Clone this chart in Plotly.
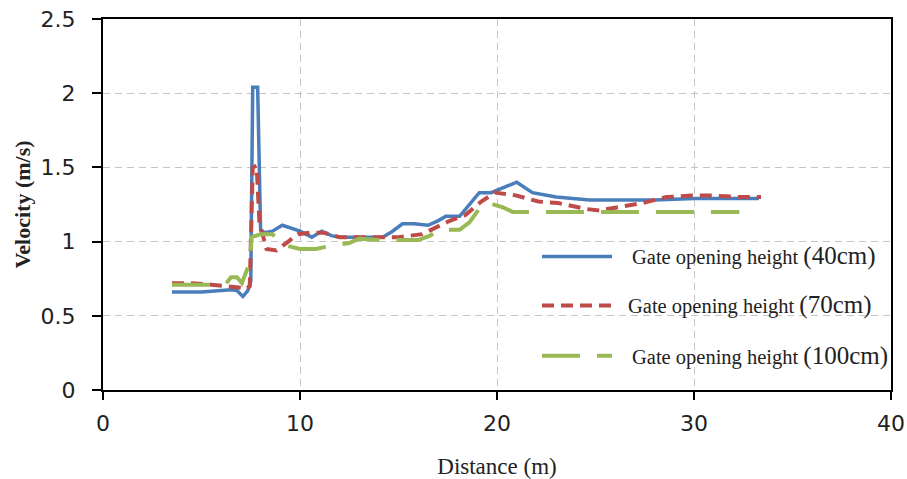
import plotly.graph_objects as go

# Velocity profiles along the channel for three gate opening heights
x_40 = [3.5, 5.0, 6.5, 6.8, 7.1, 7.35, 7.5, 7.6, 7.85, 8.0, 8.2, 8.6, 9.1, 9.6, 10.0,
        10.6, 11.1, 11.6, 12.0, 13.0, 14.2, 14.7, 15.2, 15.8, 16.5, 17.0, 17.4, 18.1,
        18.6, 19.1, 19.7, 20.3, 21.0, 21.8, 23.0, 24.7, 26.0, 28.0, 30.0, 32.0, 33.3]
v_40 = [0.66, 0.66, 0.675, 0.67, 0.63, 0.67, 0.73, 2.04, 2.04, 1.08, 1.06, 1.07, 1.11,
        1.09, 1.07, 1.03, 1.07, 1.04, 1.03, 1.03, 1.03, 1.07, 1.12, 1.12, 1.11, 1.14,
        1.17, 1.17, 1.25, 1.33, 1.33, 1.36, 1.40, 1.33, 1.30, 1.28, 1.28, 1.28, 1.29,
        1.29, 1.29]

x_70 = [3.5, 4.5, 5.5, 6.3, 6.9, 7.25, 7.45, 7.6, 7.8, 7.95, 8.1, 8.3, 8.8, 9.3, 9.9,
        10.5, 11.2, 12.0, 13.0, 14.0, 15.0, 16.2, 17.0, 17.6, 18.4, 19.2, 19.9, 21.0,
        22.1, 23.1, 24.5, 25.2, 26.5, 27.4, 28.6, 29.9, 31.0, 32.4, 33.4]
v_70 = [0.72, 0.72, 0.71, 0.70, 0.69, 0.68, 0.70, 1.50, 1.51, 1.10, 1.05, 0.95, 0.94,
        0.99, 1.05, 1.06, 1.06, 1.03, 1.03, 1.03, 1.03, 1.05, 1.10, 1.14, 1.18, 1.27,
        1.33, 1.31, 1.27, 1.26, 1.22, 1.21, 1.24, 1.26, 1.30, 1.31, 1.31, 1.30, 1.30]

x_100 = [3.5, 5.0, 6.2, 6.5, 6.8, 7.05, 7.3, 7.45, 7.55, 8.0, 8.6, 9.0, 9.4, 10.0, 10.8,
         11.5, 12.5, 13.0, 14.2, 16.0, 16.6, 17.1, 18.1, 18.6, 19.2, 19.6, 20.3, 20.8,
         22.0, 24.0, 26.0, 28.0, 30.0, 32.3]
v_100 = [0.71, 0.71, 0.71, 0.76, 0.76, 0.72, 0.80, 0.86, 1.03, 1.05, 1.05, 1.00, 0.97,
         0.95, 0.95, 0.97, 0.99, 1.02, 1.01, 1.01, 1.04, 1.08, 1.08, 1.13, 1.24, 1.26,
         1.23, 1.20, 1.20, 1.20, 1.20, 1.20, 1.20, 1.20]

x_ticks = [0, 10, 20, 30, 40]
y_ticks = [0, 0.5, 1, 1.5, 2, 2.5]
y_tick_text = ["0", "0.5", "1", "1.5", "2", "2.5"]

series = [
    ("Gate opening height", "(40cm)", x_40, v_40, "#4A7EBB", 3.5, "solid"),
    ("Gate opening height", "(70cm)", x_70, v_70, "#BE4B48", 4, "12px,7px"),
    ("Gate opening height", "(100cm)", x_100, v_100, "#98B954", 4, "38px,17px"),
]

fig = go.Figure()
for name, tag, xs, ys, color, width, dash in series:
    fig.add_trace(go.Scatter(
        x=xs, y=ys, mode="lines", name=f"{name} {tag}",
        line=dict(color=color, width=width, dash=dash),
        showlegend=False,
    ))

# Hand-built legend: long line samples with mixed-size labels
legend_rows = [(0.360, 542, 612, 630), (0.228, 542, 612, 626), (0.092, 542, 612, 630)]
plot_left, plot_w = 103, 788
for (name, tag, _, _, color, width, dash), (py, x0, x1, tx) in zip(series, legend_rows):
    fig.add_shape(type="line", xref="paper", yref="paper",
                  x0=(x0 - plot_left) / plot_w, x1=(x1 - plot_left) / plot_w,
                  y0=py, y1=py, line=dict(color=color, width=width, dash=dash))
    fig.add_annotation(
        xref="paper", yref="paper", x=(tx - plot_left) / plot_w, y=py,
        xanchor="left", yanchor="middle", showarrow=False,
        text=f"{name} <span style='font-size:25px'>{tag}</span>",
        font=dict(family="Liberation Serif", size=20.5, color="#222222"),
    )

grid = dict(showgrid=True, gridcolor="#C4C4C4", gridwidth=1.3, griddash="7px,5px")
fig.update_xaxes(
    range=[0, 40], tickvals=x_ticks, **grid, automargin=False,
    showline=True, linecolor="#000000", linewidth=2, mirror=True,
    ticks="outside", ticklen=8, tickwidth=2, tickcolor="#000000",
    ticklabelstandoff=5,
    tickfont=dict(family="DejaVu Sans", size=22, color="#222222"),
    title=dict(text="Distance (m)", standoff=26,
               font=dict(family="Liberation Serif", size=23, color="#222222")),
    zeroline=False,
)
fig.update_yaxes(
    range=[0, 2.5], tickvals=y_ticks, ticktext=y_tick_text, **grid, automargin=False,
    showline=True, linecolor="#000000", linewidth=2, mirror=True,
    ticks="outside", ticklen=9, tickwidth=2, tickcolor="#000000",
    ticklabelstandoff=12,
    tickfont=dict(family="DejaVu Sans", size=22, color="#222222"),
    title=dict(text="<b>Velocity (m/s)</b>", standoff=4,
               font=dict(family="Liberation Serif", size=22, color="#222222")),
    zeroline=False,
)
fig.update_layout(
    width=907, height=479,
    margin=dict(l=103, r=16, t=19, b=89),
    paper_bgcolor="#FFFFFF", plot_bgcolor="#FFFFFF",
)
fig.write_html("out.html")
